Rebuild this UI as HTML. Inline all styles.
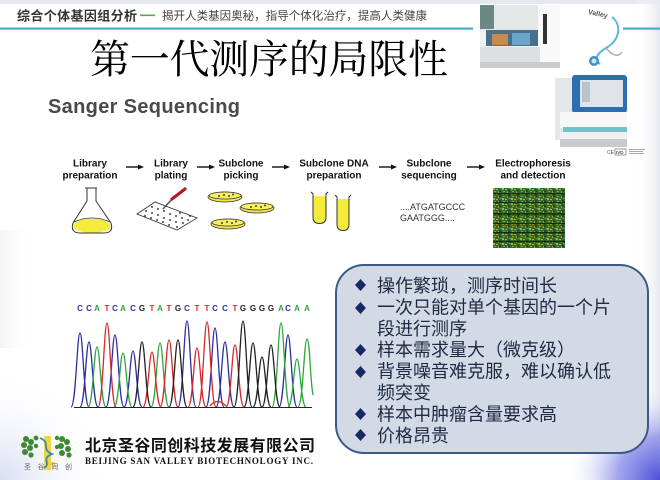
<!DOCTYPE html>
<html><head><meta charset="utf-8"><style>
html,body{margin:0;padding:0;background:#fff;}
body{width:660px;height:480px;overflow:hidden;position:relative;}
svg{position:absolute;left:0;top:0;}
</style></head><body>
<svg width="660" height="480" viewBox="0 0 660 480" xmlns="http://www.w3.org/2000/svg">
<defs>
<radialGradient id="corner" cx="660" cy="480" r="95" gradientUnits="userSpaceOnUse">
<stop offset="0" stop-color="#4a4fd6" stop-opacity="1"/>
<stop offset="0.45" stop-color="#7b7fe6" stop-opacity="0.7"/>
<stop offset="1" stop-color="#ffffff" stop-opacity="0"/>
</radialGradient>
<radialGradient id="leftbot" cx="0" cy="480" r="110" gradientUnits="userSpaceOnUse">
<stop offset="0" stop-color="#d8ddf2"/><stop offset="1" stop-color="#ffffff" stop-opacity="0"/>
</radialGradient>
<linearGradient id="rightedge" x1="660" y1="0" x2="635" y2="0" gradientUnits="userSpaceOnUse">
<stop offset="0" stop-color="#e6e8ee"/><stop offset="1" stop-color="#ffffff" stop-opacity="0"/>
</linearGradient>
<linearGradient id="leftgray" x1="0" y1="0" x2="34" y2="0" gradientUnits="userSpaceOnUse">
<stop offset="0" stop-color="#f4f4f6"/><stop offset="1" stop-color="#ffffff" stop-opacity="0"/>
</linearGradient>
<pattern id="gel" x="493" y="188" width="9" height="5" patternUnits="userSpaceOnUse">
<rect width="9" height="5" fill="#35692a"/>
<rect x="0" y="0" width="2" height="2" fill="#8fbf3a"/>
<rect x="3" y="1" width="2" height="1" fill="#c8a83a"/>
<rect x="6" y="2" width="2" height="2" fill="#21452a"/>
<rect x="1" y="3" width="2" height="1" fill="#6fae3a"/>
<rect x="5" y="3" width="1" height="2" fill="#b09040"/>
<rect x="7" y="0" width="2" height="1" fill="#4f9050"/>
</pattern>
</defs>

<!-- background effects -->
<rect x="0" y="0" width="660" height="4" fill="#e4e9f0"/>
<rect x="635" y="0" width="25" height="480" fill="url(#rightedge)"/>
<rect x="0" y="230" width="34" height="118" fill="url(#leftgray)"/>
<rect x="0" y="370" width="110" height="110" fill="url(#leftbot)"/>
<rect x="540" y="380" width="120" height="100" fill="url(#corner)"/>

<!-- header -->
<text x="17" y="20.5" font-family="Noto Sans CJK SC, sans-serif" font-size="13" font-weight="bold" fill="#333" textLength="120">综合个体基因组分析</text>
<rect x="140" y="14.5" width="15" height="1.6" fill="#5aa84a"/>
<text x="162" y="19.5" font-family="Noto Sans CJK SC, sans-serif" font-size="11.5" fill="#444" textLength="265">揭开人类基因奥秘，指导个体化治疗，提高人类健康</text>
<rect x="0" y="27.5" width="473" height="2.2" fill="#4aa9cf"/>
<rect x="623" y="27.5" width="37" height="2.2" fill="#4aa9cf"/>

<!-- machine 1 -->
<rect x="480" y="5" width="80" height="63" fill="#f0f2f2"/>
<rect x="480" y="5" width="60" height="26" fill="#e4e7e7"/>
<rect x="480" y="5" width="14" height="24" fill="#6c8885"/>
<rect x="486" y="30" width="54" height="16" fill="#4a6f8a"/>
<rect x="492" y="34" width="16" height="11" fill="#c88a4a"/>
<rect x="512" y="33" width="18" height="12" fill="#6aa6c8"/>
<rect x="538" y="5" width="22" height="62" fill="#f9f9f9"/>
<rect x="543" y="14" width="4" height="30" fill="#333"/>
<rect x="480" y="47" width="60" height="20" fill="#dde0e0"/>
<rect x="480" y="62" width="80" height="6" fill="#c8cccc"/>
<!-- stethoscope -->
<text x="588" y="16" font-family="Liberation Sans, sans-serif" font-size="7" font-weight="bold" fill="#555" transform="rotate(12 598 14)">Valley</text>
<path d="M612,17 C622,25 620,40 606,48 C596,54 594,60 600,64" fill="none" stroke="#5bb5de" stroke-width="2"/>
<path d="M606,48 C612,55 618,58 622,52" fill="none" stroke="#9fb0b8" stroke-width="1.5"/>
<circle cx="594" cy="61" r="5" fill="#3c8fc8"/>
<circle cx="594" cy="61" r="2.5" fill="#cfe6f4"/>

<!-- machine 2 -->
<rect x="555" y="78" width="20" height="62" fill="#e4e7ea"/>
<rect x="572" y="75" width="55" height="38" rx="3" fill="#2d6db3"/>
<rect x="580" y="80" width="43" height="27" fill="#dfe4ea"/>
<rect x="582" y="82" width="8" height="20" fill="#b8c4cc"/>
<rect x="560" y="112" width="67" height="16" fill="#f7f7f8"/>
<rect x="563" y="127" width="64" height="5" fill="#6cc5cd"/>
<rect x="560" y="132" width="67" height="8" fill="#f0f1f2"/>
<rect x="560" y="139" width="67" height="8" fill="#c7cbd0"/>
<text x="607" y="154" font-family="Liberation Sans, sans-serif" font-size="5" fill="#555">CE</text>
<rect x="615" y="149" width="11" height="6" fill="none" stroke="#555" stroke-width="0.6"/>
<text x="616" y="154" font-family="Liberation Sans, sans-serif" font-size="4.5" font-weight="bold" fill="#555">IVD</text>
<rect x="629" y="149" width="16" height="1" fill="#aaa"/><rect x="629" y="151" width="14" height="1" fill="#aaa"/><rect x="629" y="153" width="15" height="1" fill="#aaa"/>

<!-- title -->
<text x="90" y="73" font-family="Noto Serif CJK SC, serif" font-size="40" fill="#000" textLength="358">第一代测序的局限性</text>

<!-- Sanger figure -->
<text x="48" y="113" font-family="Liberation Sans, sans-serif" font-size="20" font-weight="bold" fill="#4a4a4a" textLength="192">Sanger Sequencing</text>

<g font-family="Liberation Sans, sans-serif" font-size="10" font-weight="bold" fill="#111" text-anchor="middle">
<text x="90" y="166.5">Library</text><text x="90" y="178.5">preparation</text>
<text x="171" y="166.5">Library</text><text x="171" y="178.5">plating</text>
<text x="241" y="166.5">Subclone</text><text x="241" y="178.5">picking</text>
<text x="334" y="166.5">Subclone DNA</text><text x="334" y="178.5">preparation</text>
<text x="429" y="166.5">Subclone</text><text x="429" y="178.5">sequencing</text>
<text x="533" y="166.5">Electrophoresis</text><text x="533" y="178.5">and detection</text>
</g>
<g stroke="#111" stroke-width="1.4" fill="#111">
<line x1="126" y1="167" x2="140" y2="167"/><path d="M144,167 L138,164.5 L138,169.5Z" stroke="none"/>
<line x1="197" y1="167" x2="211" y2="167"/><path d="M215,167 L209,164.5 L209,169.5Z" stroke="none"/>
<line x1="272" y1="167" x2="286" y2="167"/><path d="M290,167 L284,164.5 L284,169.5Z" stroke="none"/>
<line x1="379" y1="167" x2="393" y2="167"/><path d="M397,167 L391,164.5 L391,169.5Z" stroke="none"/>
<line x1="467" y1="167" x2="481" y2="167"/><path d="M485,167 L479,164.5 L479,169.5Z" stroke="none"/>
</g>

<!-- flask -->
<ellipse cx="92" cy="226" rx="18.5" ry="7" fill="#f5ec3a"/>
<path d="M85,188 L97,188 M87,188 L87,201 L73,223 Q70,233 80,233 L104,233 Q114,233 111,223 L96,201 L96,188" fill="none" stroke="#333" stroke-width="1"/>
<path d="M74,222 Q92,214 110,222" fill="none" stroke="#333" stroke-width="0.8"/>

<!-- plating -->
<path d="M137,214 L155,202 L197,218 L177,230 Z" fill="#fff" stroke="#333" stroke-width="0.8"/>
<g fill="#111">
<circle cx="146" cy="211" r="0.9"/><circle cx="152" cy="213" r="0.9"/><circle cx="158" cy="215" r="0.9"/><circle cx="164" cy="218" r="0.9"/><circle cx="170" cy="220" r="0.9"/><circle cx="176" cy="222" r="0.9"/>
<circle cx="152" cy="207" r="0.9"/><circle cx="158" cy="209" r="0.9"/><circle cx="170" cy="214" r="0.9"/><circle cx="176" cy="216" r="0.9"/><circle cx="182" cy="218" r="0.9"/><circle cx="188" cy="220" r="0.9"/>
<circle cx="145" cy="216" r="0.9"/><circle cx="151" cy="218" r="0.9"/><circle cx="157" cy="220" r="0.9"/><circle cx="163" cy="222" r="0.9"/><circle cx="169" cy="225" r="0.9"/><circle cx="177" cy="227" r="0.9"/>
<circle cx="183" cy="223" r="0.9"/><circle cx="164" cy="211" r="0.9"/><circle cx="180" cy="213" r="0.9"/><circle cx="190" cy="216" r="0.9"/>
</g>
<line x1="163" y1="209" x2="173" y2="198" stroke="#555" stroke-width="1.6"/>
<line x1="172" y1="199" x2="185" y2="189" stroke="#b01a2a" stroke-width="3.2" stroke-linecap="round"/>

<!-- petri dishes -->
<g stroke="#333" stroke-width="0.8">
<ellipse cx="225" cy="197" rx="17" ry="5" fill="#f3e84a"/><ellipse cx="225" cy="195.5" rx="16" ry="3.5" fill="#f7ee60"/>
<ellipse cx="257" cy="208" rx="17" ry="5" fill="#f3e84a"/><ellipse cx="257" cy="206.5" rx="16" ry="3.5" fill="#f7ee60"/>
<ellipse cx="228" cy="224" rx="17" ry="5" fill="#f3e84a"/><ellipse cx="228" cy="222.5" rx="16" ry="3.5" fill="#f7ee60"/>
</g>
<g fill="#111">
<circle cx="219" cy="196" r="0.9"/><circle cx="224" cy="195" r="0.9"/><circle cx="229" cy="196" r="0.9"/><circle cx="233" cy="194.5" r="0.9"/>
<circle cx="251" cy="207" r="0.9"/><circle cx="256" cy="206" r="0.9"/><circle cx="261" cy="207" r="0.9"/><circle cx="265" cy="205.5" r="0.9"/>
<circle cx="222" cy="223" r="0.9"/><circle cx="227" cy="222" r="0.9"/><circle cx="232" cy="223" r="0.9"/><circle cx="236" cy="221.5" r="0.9"/>
</g>

<!-- tubes -->
<path d="M313.5,196 L313.5,217 Q313.5,223 319.5,223 Q325.5,223 325.5,217 L325.5,196 Z" fill="#f5ec3a"/>
<path d="M311,192 L313,194 L313,217 Q313,223.5 319.5,223.5 Q326,223.5 326,217 L326,194 L328,192" fill="none" stroke="#333" stroke-width="1"/>
<path d="M337.5,199 L337.5,224 Q337.5,230 343,230 Q348.5,230 348.5,224 L348.5,199 Z" fill="#f5ec3a"/>
<path d="M335,195 L337,197 L337,224 Q337,230.5 343,230.5 Q349,230.5 349,224 L349,197 L351,195" fill="none" stroke="#333" stroke-width="1"/>

<!-- sequence text -->
<text x="400" y="210" font-family="Liberation Sans, sans-serif" font-size="9" fill="#333">....ATGATGCCC</text>
<text x="400" y="221" font-family="Liberation Sans, sans-serif" font-size="9" fill="#333">GAATGGG....</text>

<!-- gel -->
<rect x="493" y="188" width="72" height="60" fill="url(#gel)"/>
<g fill="#0c1a0c" opacity="0.8">
<rect x="493" y="193" width="72" height="1.5"/><rect x="493" y="202" width="72" height="1.2"/><rect x="493" y="213" width="72" height="1.8"/>
<rect x="493" y="223" width="72" height="1.3"/><rect x="493" y="232" width="72" height="1.6"/><rect x="493" y="241" width="72" height="1.2"/>
</g>

<!-- chromatogram -->
<g font-family="Liberation Sans, sans-serif" font-size="8" font-weight="bold" text-anchor="middle">
<text x="80" y="311" fill="#2b2fa0">C</text><text x="89" y="311" fill="#2b2fa0">C</text><text x="97" y="311" fill="#2da83a">A</text><text x="107" y="311" fill="#d8282a">T</text>
<text x="115" y="311" fill="#2b2fa0">C</text><text x="123" y="311" fill="#2da83a">A</text><text x="133" y="311" fill="#2b2fa0">C</text><text x="142" y="311" fill="#222">G</text>
<text x="152" y="311" fill="#d8282a">T</text><text x="160" y="311" fill="#2da83a">A</text><text x="169" y="311" fill="#d8282a">T</text><text x="178" y="311" fill="#222">G</text>
<text x="187" y="311" fill="#2b2fa0">C</text><text x="197" y="311" fill="#d8282a">T</text><text x="207" y="311" fill="#d8282a">T</text><text x="215" y="311" fill="#2b2fa0">C</text>
<text x="225" y="311" fill="#2b2fa0">C</text><text x="235" y="311" fill="#d8282a">T</text><text x="243" y="311" fill="#222">G</text><text x="253" y="311" fill="#222">G</text>
<text x="262" y="311" fill="#222">G</text><text x="271" y="311" fill="#222">G</text><text x="281" y="311" fill="#2da83a">A</text><text x="288" y="311" fill="#2b2fa0">C</text>
<text x="297" y="311" fill="#2da83a">A</text><text x="307" y="311" fill="#2da83a">A</text>
</g>
<g fill="none" stroke-width="1.3">
<path stroke="#2b2fa0" d="M71,407 C76,407 77,333 80,333 S84,407 89,407 M80,407 C85,407 86,342 89,342 S93,407 98,407 M106,407 C111,407 112,335 115,335 S119,407 124,407 M124,407 C129,407 130,351 133,351 S137,407 142,407 M178,407 C183,407 184,321 187,321 S191,407 196,407 M206,407 C211,407 212,328 215,328 S219,407 224,407 M216,407 C221,407 222,342 225,342 S229,407 234,407 M279,407 C284,407 285,335 288,335 S292,407 297,407"/>
<path stroke="#2da83a" d="M88,407 C93,407 94,347 97,347 S101,407 106,407 M114,407 C119,407 120,353 123,353 S127,407 132,407 M151,407 C156,407 157,343 160,343 S164,407 169,407 M272,407 C277,407 278,323 281,323 S285,407 290,407 M288,407 C293,407 294,359 297,359 S301,407 306,407 M298,407 C303,407 304,339 307,339 S310,380 313,395"/>
<path stroke="#d8282a" d="M98,407 C103,407 104,323 107,323 S111,407 116,407 M143,407 C148,407 149,352 152,352 S156,407 161,407 M160,407 C165,407 166,340 169,340 S173,407 178,407 M188,407 C193,407 194,348 197,348 S201,407 206,407 M198,407 C203,407 204,322 207,322 S211,407 216,407 M226,407 C231,407 232,345 235,345 S239,407 244,407 M210,406 C215,400 220,400 226,406"/>
<path stroke="#222" d="M133,407 C138,407 139,342 142,342 S146,407 151,407 M169,407 C174,407 175,340 178,340 S182,407 187,407 M234,407 C239,407 240,321 243,321 S247,407 252,407 M244,407 C249,407 250,343 253,343 S257,407 262,407 M253,407 C258,407 259,357 262,357 S266,407 271,407 M262,407 C267,407 268,345 271,345 S275,407 280,407"/>
</g>
<line x1="74" y1="407.5" x2="312" y2="407.5" stroke="#222" stroke-width="1"/>

<!-- bullet box -->
<rect x="336" y="265" width="312" height="188" rx="28" ry="28" fill="#d3dae6" stroke="#3b5a85" stroke-width="2"/>
<g font-family="Noto Sans CJK SC, sans-serif" font-size="18" fill="#1f2a44">
<text x="377" y="292">操作繁琐，测序时间长</text>
<text x="377" y="313.4">一次只能对单个基因的一个片</text>
<text x="377" y="334.8">段进行测序</text>
<text x="377" y="356.2">样本需求量大（微克级）</text>
<text x="377" y="377.6">背景噪音难克服，难以确认低</text>
<text x="377" y="399">频突变</text>
<text x="377" y="420.4">样本中肿瘤含量要求高</text>
<text x="377" y="441.8">价格昂贵</text>
</g>
<g fill="#152a62">
<path d="M360.5,279 L366,285 L360.5,291 L355,285Z"/>
<path d="M360.5,302 L366,308 L360.5,314 L355,308Z"/>
<path d="M360.5,344 L366,350 L360.5,356 L355,350Z"/>
<path d="M360.5,366 L366,372 L360.5,378 L355,372Z"/>
<path d="M360.5,408 L366,414 L360.5,420 L355,414Z"/>
<path d="M360.5,429 L366,435 L360.5,441 L355,435Z"/>
</g>

<!-- footer logo -->
<g>
<rect x="44" y="436" width="7" height="34" fill="#f0d83a"/>
<rect x="46" y="462" width="9" height="3" fill="#f0d83a"/>
<path d="M40,438 C52,443 40,449 52,454 C40,459 52,463 44,468" fill="none" stroke="#3a88c8" stroke-width="1.8"/>
<g fill="#3e8a32">
<circle cx="26" cy="439" r="3"/><circle cx="31" cy="442" r="3"/><circle cx="24" cy="445" r="3"/><circle cx="30" cy="448" r="3"/><circle cx="25" cy="452" r="3"/><circle cx="31" cy="455" r="2.6"/><circle cx="36" cy="438" r="2.4"/><circle cx="36" cy="446" r="2.2"/>
<circle cx="62" cy="439" r="3"/><circle cx="67" cy="442" r="3"/><circle cx="61" cy="446" r="3"/><circle cx="68" cy="449" r="3"/><circle cx="62" cy="453" r="3"/><circle cx="69" cy="455" r="2.6"/><circle cx="57" cy="438" r="2.2"/><circle cx="57" cy="447" r="2.2"/>
</g>
<text x="24" y="469" font-family="Noto Sans CJK SC, sans-serif" font-size="7" fill="#666" textLength="48">圣谷同创</text>
</g>
<text x="85" y="451" font-family="Noto Sans CJK SC, sans-serif" font-size="16" font-weight="bold" fill="#111" textLength="230">北京圣谷同创科技发展有限公司</text>
<text x="85" y="464" font-family="Liberation Serif, serif" font-size="9" font-weight="bold" fill="#111" textLength="228">BEIJING SAN VALLEY BIOTECHNOLOGY INC.</text>
</svg>
</body></html>
